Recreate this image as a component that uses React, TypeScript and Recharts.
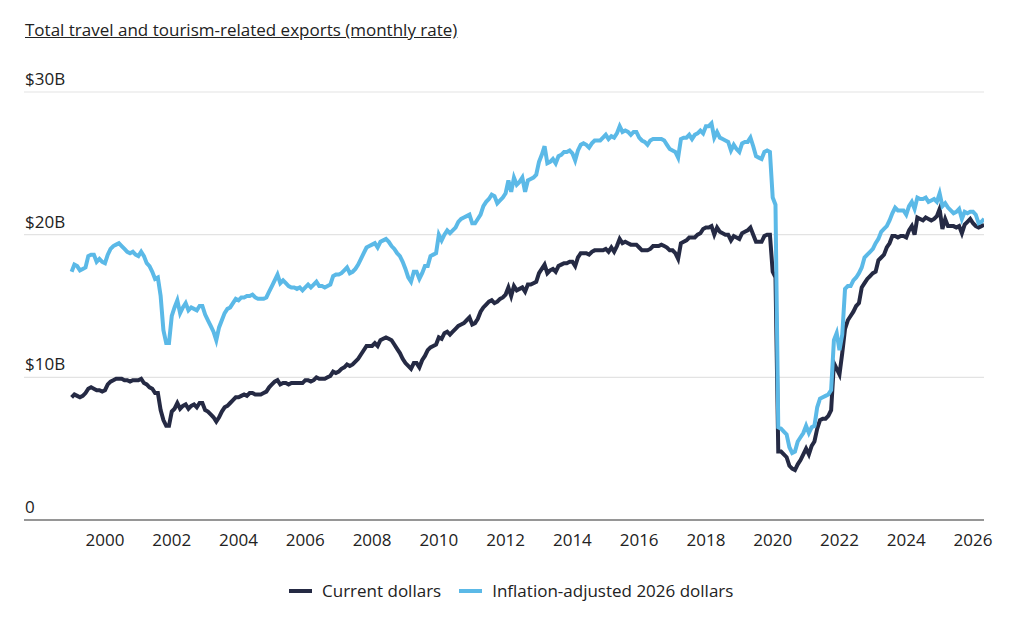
import { CartesianGrid, Line, LineChart, XAxis, YAxis } from 'recharts';

// monthly series, Jan 1999 .. May 2026, $ billions
const START_YEAR = 1999;

const currentDollars = [
  8.6, 8.8, 8.7, 8.6, 8.7, 8.9, 9.2, 9.3, 9.2, 9.1, 9.1, 9.0, // 1999
  9.1, 9.5, 9.7, 9.8, 9.9, 9.9, 9.9, 9.8, 9.8, 9.7, 9.8, 9.8, // 2000
  9.8, 9.9, 9.6, 9.5, 9.3, 9.2, 8.9, 8.9, 7.7, 7.0, 6.6, 6.6, // 2001
  7.6, 7.8, 8.2, 7.8, 8.0, 8.1, 7.8, 8.0, 8.1, 7.9, 8.2, 8.2, // 2002
  7.7, 7.6, 7.4, 7.2, 6.9, 7.2, 7.6, 7.9, 8.0, 8.2, 8.4, 8.6, // 2003
  8.6, 8.7, 8.8, 8.7, 8.9, 8.9, 8.8, 8.8, 8.8, 8.9, 9.0, 9.3, // 2004
  9.5, 9.7, 9.8, 9.5, 9.6, 9.6, 9.5, 9.6, 9.6, 9.6, 9.6, 9.6, // 2005
  9.8, 9.8, 9.7, 9.8, 10.0, 9.9, 9.9, 9.9, 10.0, 10.1, 10.4, 10.3, // 2006
  10.4, 10.6, 10.7, 10.9, 10.8, 10.9, 11.1, 11.3, 11.6, 11.9, 12.2, 12.2, // 2007
  12.2, 12.4, 12.2, 12.6, 12.7, 12.8, 12.7, 12.6, 12.3, 12.0, 11.7, 11.3, // 2008
  11.0, 10.8, 10.6, 11.0, 11.0, 10.7, 11.2, 11.5, 11.9, 12.1, 12.2, 12.3, // 2009
  12.8, 12.7, 13.1, 13.2, 13.0, 13.2, 13.4, 13.6, 13.7, 13.8, 14.0, 14.2, // 2010
  13.7, 13.8, 14.1, 14.6, 14.9, 15.1, 15.3, 15.4, 15.2, 15.3, 15.5, 15.6, // 2011
  15.8, 16.3, 15.7, 16.4, 16.1, 16.2, 16.3, 16.0, 16.5, 16.5, 16.6, 16.7, // 2012
  17.3, 17.6, 17.9, 17.3, 17.5, 17.6, 17.4, 17.8, 17.9, 18.0, 18.0, 18.1, // 2013
  18.1, 17.8, 18.4, 18.7, 18.7, 18.7, 18.6, 18.8, 18.9, 18.9, 18.9, 18.9, // 2014
  19.0, 18.8, 19.1, 18.8, 19.2, 19.7, 19.4, 19.5, 19.4, 19.3, 19.3, 19.3, // 2015
  19.1, 18.9, 18.9, 18.9, 19.0, 19.2, 19.2, 19.2, 19.3, 19.2, 19.1, 18.9, // 2016
  18.9, 18.7, 18.3, 19.4, 19.5, 19.6, 19.8, 19.8, 19.8, 20.0, 20.1, 20.4, // 2017
  20.5, 20.5, 20.6, 20.0, 20.5, 20.2, 20.1, 20.0, 20.0, 19.6, 19.9, 19.8, // 2018
  19.7, 20.1, 20.2, 20.3, 20.5, 20.0, 19.5, 19.5, 19.5, 19.9, 20.0, 20.0, // 2019
  17.4, 17.0, 4.8, 4.8, 4.6, 4.4, 3.8, 3.6, 3.5, 3.9, 4.2, 4.6, // 2020
  5.0, 4.6, 5.2, 5.5, 6.4, 7.0, 7.1, 7.1, 7.3, 7.7, 11.0, 10.6, // 2021
  10.2, 11.7, 13.4, 14.0, 14.3, 14.6, 15.0, 15.2, 16.3, 16.6, 16.9, 17.1, // 2022
  17.3, 17.4, 18.2, 18.4, 18.6, 19.1, 19.4, 19.9, 19.9, 19.8, 19.9, 19.9, // 2023
  19.8, 20.3, 20.6, 20.0, 21.2, 21.1, 21.0, 21.2, 21.1, 21.0, 21.1, 21.3, // 2024
  21.8, 20.4, 21.1, 20.6, 20.6, 20.6, 20.5, 20.6, 20.1, 20.7, 20.9, 21.1, // 2025
  20.8, 20.6, 20.5, 20.6, 20.7, // 2026
];

const inflationAdjusted = [
  17.4, 17.9, 17.8, 17.5, 17.6, 17.7, 18.5, 18.6, 18.6, 18.1, 18.3, 18.1, // 1999
  18.0, 18.6, 19.0, 19.2, 19.3, 19.4, 19.2, 19.0, 18.8, 18.7, 18.8, 18.6, // 2000
  18.5, 18.8, 18.5, 18.0, 17.8, 17.4, 16.9, 17.0, 15.7, 13.3, 12.4, 12.4, // 2001
  14.3, 14.9, 15.4, 14.5, 14.9, 15.2, 14.7, 14.9, 14.8, 14.7, 15.0, 15.0, // 2002
  14.4, 14.0, 13.6, 13.2, 12.6, 13.5, 14.0, 14.5, 14.8, 14.9, 15.2, 15.5, // 2003
  15.4, 15.6, 15.6, 15.7, 15.7, 15.8, 15.6, 15.5, 15.5, 15.5, 15.6, 16.0, // 2004
  16.4, 16.8, 17.2, 16.6, 16.8, 16.6, 16.4, 16.3, 16.3, 16.2, 16.3, 16.1, // 2005
  16.3, 16.5, 16.3, 16.5, 16.7, 16.4, 16.4, 16.3, 16.4, 16.5, 17.1, 17.2, // 2006
  17.2, 17.3, 17.5, 17.7, 17.3, 17.4, 17.6, 17.9, 18.3, 18.7, 19.1, 19.2, // 2007
  19.3, 19.4, 19.1, 19.5, 19.6, 19.7, 19.5, 19.2, 19.0, 18.7, 18.5, 18.1, // 2008
  17.6, 17.0, 16.7, 17.4, 17.4, 16.9, 17.3, 17.8, 17.8, 18.5, 18.6, 18.7, // 2009
  20.0, 19.6, 20.0, 20.3, 20.1, 20.3, 20.5, 20.9, 21.1, 21.2, 21.3, 21.4, // 2010
  20.8, 20.8, 21.1, 21.4, 22.0, 22.3, 22.5, 22.8, 22.7, 22.2, 22.4, 22.6, // 2011
  22.9, 23.8, 23.0, 24.0, 23.5, 23.7, 24.0, 23.0, 23.8, 23.9, 24.0, 24.2, // 2012
  25.1, 25.6, 26.2, 25.0, 25.1, 25.3, 25.0, 25.5, 25.6, 25.8, 25.8, 25.9, // 2013
  25.7, 25.2, 25.9, 26.3, 26.4, 26.3, 26.1, 26.4, 26.6, 26.6, 26.6, 26.8, // 2014
  27.0, 26.7, 26.9, 26.8, 27.1, 27.6, 27.2, 27.3, 27.2, 27.0, 27.2, 27.2, // 2015
  26.8, 26.6, 26.5, 26.3, 26.6, 26.7, 26.7, 26.7, 26.7, 26.6, 26.3, 26.0, // 2016
  25.9, 25.8, 25.4, 26.7, 26.8, 26.8, 27.0, 26.7, 27.0, 27.1, 27.3, 27.1, // 2017
  27.6, 27.6, 27.8, 26.8, 27.2, 26.8, 26.7, 26.6, 26.5, 25.9, 26.3, 26.0, // 2018
  25.8, 26.4, 26.5, 26.5, 26.8, 26.2, 25.5, 25.4, 25.3, 25.8, 25.9, 25.8, // 2019
  22.6, 22.1, 6.5, 6.4, 6.2, 6.0, 5.1, 4.7, 4.8, 5.5, 5.8, 6.1, // 2020
  6.6, 6.1, 6.5, 6.6, 7.9, 8.5, 8.6, 8.7, 8.8, 9.1, 12.6, 13.1, // 2021
  11.9, 13.0, 16.2, 16.4, 16.4, 16.8, 17.0, 17.3, 17.7, 18.4, 18.6, 18.8, // 2022
  19.0, 19.4, 19.7, 20.2, 20.4, 20.6, 21.0, 21.5, 21.9, 21.7, 21.7, 21.7, // 2023
  21.4, 22.0, 22.3, 21.8, 22.6, 22.5, 22.5, 22.6, 22.3, 22.4, 22.5, 22.3, // 2024
  22.9, 22.0, 22.2, 21.9, 21.7, 21.5, 21.6, 21.8, 21.1, 21.6, 21.5, 21.6, // 2025
  21.6, 21.4, 20.8, 20.9, 21.1, // 2026
];

const yearTicks = [2000, 2002, 2004, 2006, 2008, 2010, 2012, 2014, 2016, 2018, 2020, 2022, 2024, 2026];
const valueTicks = [0, 10, 20, 30];

const NAVY = '#252a44';
const SKY = '#5bb9e7';
const FONT = '"Open Sans", "Noto Sans", sans-serif';

const data = currentDollars.map((v, i) => ({
  t: START_YEAR + i / 12,
  current: v,
  adjusted: inflationAdjusted[i],
}));

function renderValueTick(props: any) {
  const { y, payload } = props;
  const label = payload.value === 0 ? '0' : `$${payload.value}B`;
  return (
    <text x={25} y={y - 7} fill="#222" fontSize={17} fontFamily={FONT} textAnchor="start">
      {label}
    </text>
  );
}

function LegendItem({ color, label }: { color: string; label: string }) {
  return (
    <div style={{ display: 'flex', alignItems: 'center', gap: 10 }}>
      <div style={{ width: 23, height: 4, background: color }} />
      <span>{label}</span>
    </div>
  );
}

export default function App() {
  return (
    <div
      style={{
        position: 'absolute',
        left: 0,
        top: 0,
        width: 1024,
        height: 618,
        background: '#fff',
        fontFamily: FONT,
        color: '#222',
      }}
    >
      <div
        style={{
          position: 'absolute',
          left: 25,
          top: 18,
          fontSize: 17,
          textDecoration: 'underline',
          whiteSpace: 'nowrap',
        }}
      >
        Total travel and tourism-related exports (monthly rate)
      </div>
      <LineChart width={1024} height={618} data={data} margin={{ top: 92, right: 40, left: 23, bottom: 68 }}>
        <CartesianGrid vertical={false} stroke="#e3e3e3" strokeWidth={1.2} />
        <XAxis
          dataKey="t"
          type="number"
          domain={[1997.574, 2026.329]}
          ticks={yearTicks}
          allowDataOverflow
          height={30}
          tickLine={false}
          axisLine={{ stroke: '#777', strokeWidth: 1.5 }}
          tick={{ fill: '#222', fontSize: 17, fontFamily: FONT }}
          tickMargin={8}
        />
        <YAxis
          domain={[0, 30]}
          ticks={valueTicks}
          width={1}
          interval={0}
          axisLine={false}
          tickLine={false}
          tick={renderValueTick}
        />
        <Line
          dataKey="current"
          name="Current dollars"
          stroke={NAVY}
          strokeWidth={4}
          dot={false}
          isAnimationActive={false}
        />
        <Line
          dataKey="adjusted"
          name="Inflation-adjusted 2026 dollars"
          stroke={SKY}
          strokeWidth={4}
          dot={false}
          isAnimationActive={false}
        />
      </LineChart>
      <div
        style={{
          position: 'absolute',
          left: 289,
          top: 579,
          display: 'flex',
          gap: 18,
          fontSize: 17,
          whiteSpace: 'nowrap',
        }}
      >
        <LegendItem color={NAVY} label="Current dollars" />
        <LegendItem color={SKY} label="Inflation-adjusted 2026 dollars" />
      </div>
    </div>
  );
}
